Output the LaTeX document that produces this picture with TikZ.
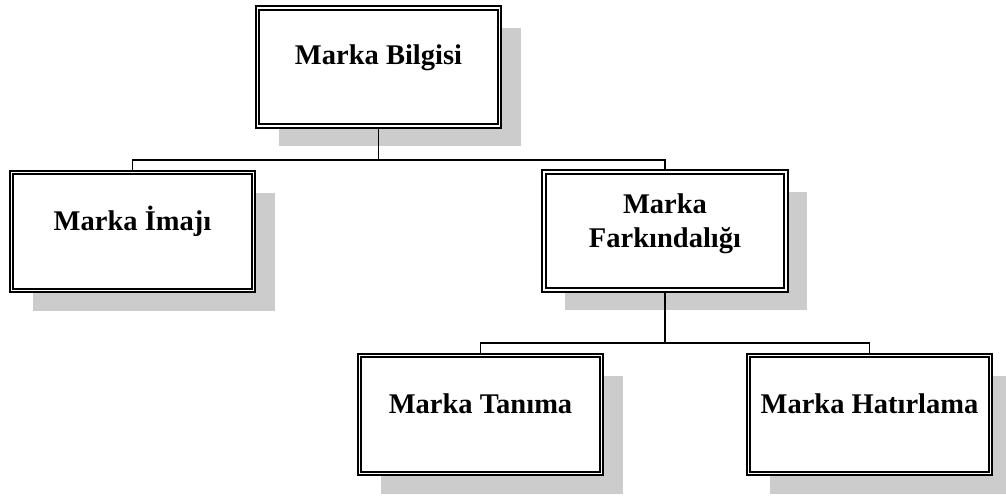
\documentclass[tikz,border=0pt]{standalone}
\usepackage{fontspec}
\setmainfont{Liberation Serif}
\usetikzlibrary{shadows}
\definecolor{shade}{RGB}{204,204,204}
\tikzset{
  orgbox/.style={draw=black, fill=white, line width=1.8pt, double=white,
    double distance=1.6pt, minimum width=242pt, minimum height=118pt,
    inner sep=0pt, outer sep=0pt,
    general shadow={fill=shade, shadow xshift=21pt, shadow yshift=-20pt}},
  orgtext/.style={font=\bfseries\fontsize{28.5}{34}\selectfont, inner sep=0pt,
    align=center},
  link/.style={draw=black, line width=1.6pt, shorten <=2.6pt, shorten >=2.6pt}
}
\begin{document}
\begin{tikzpicture}[x=1pt, y=-1pt]
\useasboundingbox (0,0) rectangle (1006,495);
% boxes of the chart
\node[orgbox] (top) at (378.5,67) {};
\node[orgbox] (img) at (132.5,231.5) {};
\node[orgbox] (far) at (665,231) {};
\node[orgbox] (tan) at (480.5,414.5) {};
\node[orgbox] (hat) at (869.5,414.5) {};
% texts
\node[orgtext, anchor=base] (t-top) at (378.5,65) {Marka Bilgisi};
\node[orgtext, anchor=base] (t-img) at (132.5,230) {Marka İmajı};
\node[orgtext, anchor=north] (t-far) at (665,193.5) {Marka\\Farkındalığı};
\node[orgtext, anchor=base] (t-tan) at (480.5,413) {Marka Tanıma};
\node[orgtext, anchor=base] (t-hat) at (869.5,413) {Marka Hatırlama};
% bus lines
\coordinate (bus1) at (0,160);
\coordinate (bus2) at (0,343);
\draw[link, shorten >=0pt] (top.south) -- (top.south |- bus1);
\draw[link] (img.north) |- (far.north |- bus1) -- (far.north);
\draw[link, shorten >=0pt] (far.south) -- (far.south |- bus2);
\draw[link] (tan.north) |- (hat.north |- bus2) -- (hat.north);
\end{tikzpicture}
\end{document}
